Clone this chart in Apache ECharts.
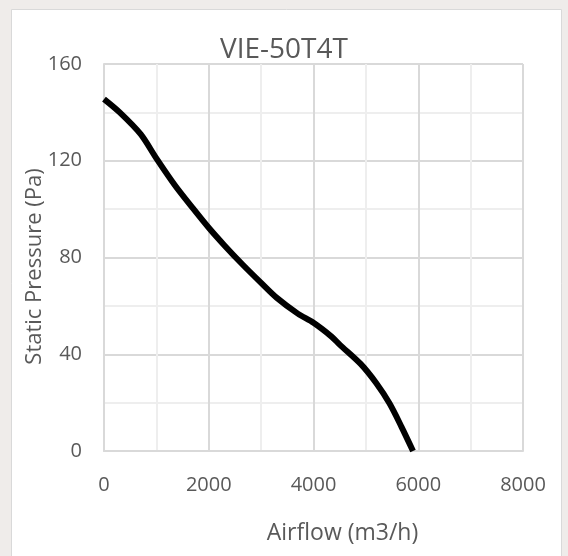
<!DOCTYPE html>
<html><head><meta charset="utf-8">
<script src="https://cdn.jsdelivr.net/npm/echarts@6/dist/echarts.min.js"></script>
<style>html,body{margin:0;padding:0;background:#efecea;}#c{width:568px;height:556px;}</style>
</head><body><div id="c"></div>
<script>
var chartTitle = 'VIE-50T4T';
var xName = 'Airflow (m3/h)';
var yName = 'Static Pressure (Pa)';
var airflow = [0, 300, 700, 1000, 1350, 1700, 2000, 2300, 2650, 3000, 3300, 3700, 4000, 4350, 4500, 4900, 5200, 5450, 5680, 5900];
var pressure = [145.5, 140, 131, 121, 110, 100.3, 92.3, 85, 77, 69.5, 63.3, 56.8, 53, 47.2, 44, 36, 28, 19.7, 10, 0];

var pts = airflow.map(function (x, i) { return [x, pressure[i]]; });
var txt = '#595959';
var font = '"Open Sans", sans-serif';
var chart = echarts.init(document.getElementById('c'), null, {renderer: 'canvas'});
chart.setOption({
  backgroundColor: '#efecea',
  animation: false,
  graphic: [{
    type: 'rect', silent: true, z: -10,
    shape: {x: 11.5, y: 9.5, width: 550, height: 560},
    style: {fill: '#ffffff', stroke: '#d9d9d9', lineWidth: 1}
  }],
  title: {
    text: chartTitle, left: 'center', top: 31,
    textStyle: {color: txt, fontFamily: font, fontSize: 28, fontWeight: 'normal'}
  },
  grid: {left: 104, right: 45, top: 64, bottom: 105, containLabel: false},
  xAxis: {
    type: 'value', min: 0, max: 8000, interval: 2000,
    name: xName, nameLocation: 'middle', nameGap: 71,
    nameTextStyle: {color: txt, fontFamily: font, fontSize: 23, padding: [0, 0, 0, 58]},
    axisLine: {show: true, lineStyle: {color: '#d9d9d9', width: 2}},
    axisTick: {show: false},
    axisLabel: {color: txt, fontFamily: font, fontSize: 20, margin: 24, formatter: function (v) { return String(v); }},
    splitLine: {show: true, lineStyle: {color: '#d9d9d9', width: 2}},
    minorTick: {show: false, splitNumber: 2},
    minorSplitLine: {show: true, lineStyle: {color: '#eeeeee', width: 2}}
  },
  yAxis: {
    type: 'value', min: 0, max: 160, interval: 40,
    name: yName, nameLocation: 'middle', nameGap: 58, nameRotate: 90, nameMoveOverlap: false,
    nameTextStyle: {color: txt, fontFamily: font, fontSize: 22, padding: [0, 18, 0, 0]},
    axisLine: {show: true, lineStyle: {color: '#d9d9d9', width: 2}},
    axisTick: {show: false},
    axisLabel: {color: txt, fontFamily: font, fontSize: 20, margin: 22, formatter: function (v) { return String(v); }},
    splitLine: {show: true, lineStyle: {color: '#d9d9d9', width: 2}},
    minorTick: {show: false, splitNumber: 2},
    minorSplitLine: {show: true, lineStyle: {color: '#eeeeee', width: 2}}
  },
  series: [{
    type: 'line', data: pts, smooth: 0.3, showSymbol: false,
    lineStyle: {color: '#000000', width: 6}, clip: false
  }]
});
</script></body></html>
